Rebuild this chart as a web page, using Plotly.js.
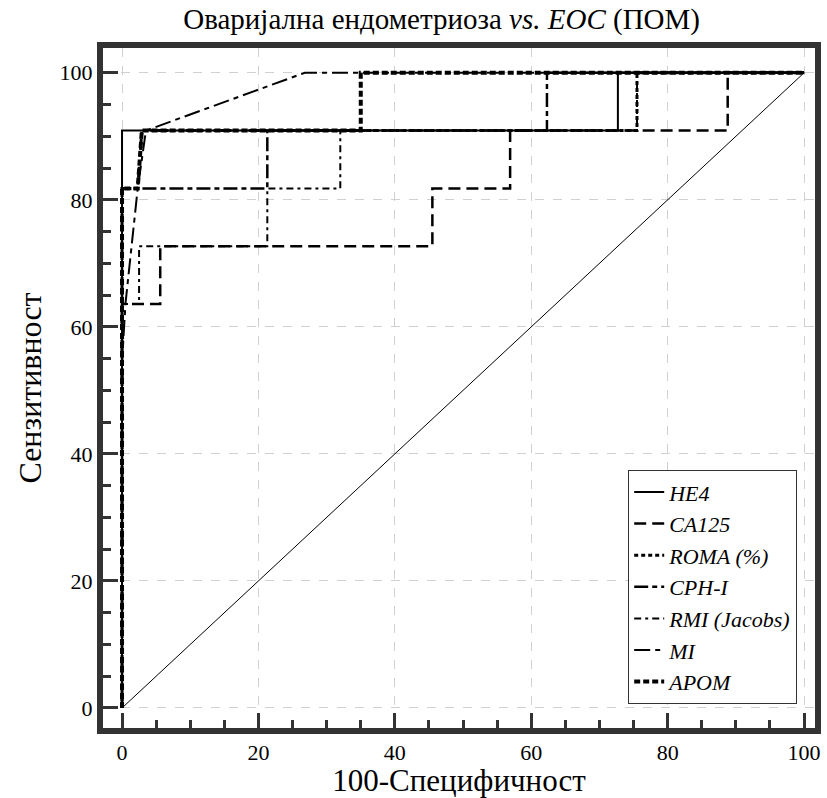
<!DOCTYPE html>
<html>
<head>
<meta charset="utf-8">
<script src="https://cdn.plot.ly/plotly-3.0.1.min.js"></script>
<style>html,body{margin:0;padding:0;background:#fff;}</style>
</head>
<body>
<div id="chart" style="width:827px;height:798px;"></div>
<script>
// Series names
const seriesNames = ["HE4", "CA125", "ROMA (%)", "CPH-I", "RMI (Jacobs)", "MI", "APOM"];

// ROC points: 100-Specificity (x) and Sensitivity (y)
const he4X  = [0, 0, 0, 72.7, 72.7, 100];
const he4Y  = [0, 81.8, 90.9, 90.9, 100, 100];

const ca125X = [0, 0, 5.6, 5.6, 45.5, 45.5, 56.9, 56.9, 88.8, 88.8, 100];
const ca125Y = [0, 63.6, 63.6, 72.7, 72.7, 81.8, 81.8, 90.9, 90.9, 100, 100];

const romaX = [0, 0, 2.3, 2.9, 75.5, 75.5, 100];
const romaY = [0, 81.8, 81.8, 90.9, 90.9, 100, 100];

const cphX = [0, 0, 21.3, 21.3, 62.3, 62.3, 100];
const cphY = [0, 81.8, 81.8, 90.9, 90.9, 100, 100];

const rmiX = [0, 0, 2.5, 2.5, 21.3, 21.3, 32.0, 32.0, 75.5, 75.5, 100];
const rmiY = [0, 63.6, 63.6, 72.7, 72.7, 81.8, 81.8, 90.9, 90.9, 100, 100];

const miX = [0, 0, 0.5, 2.3, 3.5, 26.8, 100];
const miY = [0, 54.5, 63.6, 81.8, 90.9, 100, 100];

const apomX = [0, 0, 2.3, 2.9, 35.0, 35.0, 100];
const apomY = [0, 81.8, 81.8, 90.9, 90.9, 100, 100];

const refX = [0, 100];
const refY = [0, 100];

const xTicks = [0, 20, 40, 60, 80, 100];
const yTicks = [0, 20, 40, 60, 80, 100];

const SERIF = "'Liberation Serif', 'Times New Roman', Times, serif";

const styles = [
  {width: 2,   dash: "solid"},
  {width: 2.5, dash: "12px,6px"},
  {width: 3,   dash: "4px,3px"},
  {width: 2.5, dash: "14px,4px,5px,4px"},
  {width: 2,   dash: "7px,4px,3px,4px"},
  {width: 2,   dash: "16px,5px,5px,5px"},
  {width: 4,   dash: "6px,3px"}
];
const xs = [he4X, ca125X, romaX, cphX, rmiX, miX, apomX];
const ys = [he4Y, ca125Y, romaY, cphY, rmiY, miY, apomY];

const traces = [{
  x: refX, y: refY, mode: "lines", showlegend: false,
  line: {color: "#000", width: 1}, hoverinfo: "skip"
}];
for (let i = 0; i < seriesNames.length; i++) {
  traces.push({
    x: xs[i], y: ys[i], mode: "lines", name: "<i>" + seriesNames[i] + "</i>",
    line: {color: "#000", width: styles[i].width, dash: styles[i].dash}
  });
}

const axisCommon = {
  showline: true, linecolor: "#333", linewidth: 6, mirror: true,
  ticks: "inside", ticklen: 15, tickwidth: 3, tickcolor: "#333",
  showgrid: true, gridcolor: "#d0d0d0", griddash: "dash", gridwidth: 1,
  zeroline: false,
  tickfont: {family: SERIF, size: 22, color: "#000"},
  minor: {ticks: "inside", ticklen: 8, tickwidth: 3, tickcolor: "#333", dtick: 5, showgrid: false},
  tickmode: "array"
};

const layout = {
  width: 827, height: 798,
  margin: {l: 103, r: 12, t: 48, b: 70},
  paper_bgcolor: "#fff", plot_bgcolor: "#fff",
  font: {family: SERIF, color: "#000"},
  title: {
    text: "Оваријална ендометриоза <i>vs. EOC</i> (ПОМ)",
    x: 0.534, xanchor: "center", y: 0.977, yanchor: "middle",
    font: {family: SERIF, size: 29, color: "#000"}
  },
  xaxis: Object.assign({}, axisCommon, {
    range: [-2.79, 101.6], tickvals: xTicks, ticktext: xTicks.map(String),
    title: {text: "100-Специфичност", standoff: 6,
      font: {family: SERIF, size: 31, color: "#000"}}
  }),
  yaxis: Object.assign({}, axisCommon, {
    range: [-3.15, 103.9], tickvals: yTicks, ticktext: yTicks.map(String),
    title: {text: "Сензитивност", standoff: 10,
      font: {family: SERIF, size: 32, color: "#000"}}
  }),
  legend: {
    x: 0.975, xanchor: "right", y: 0.035, yanchor: "bottom",
    bgcolor: "#fff", bordercolor: "#333", borderwidth: 1,
    font: {family: SERIF, size: 22, color: "#000"},
    tracegroupgap: 0, itemwidth: 30
  }
};

Plotly.newPlot("chart", traces, layout, {displayModeBar: false, staticPlot: true});
</script>
</body>
</html>
